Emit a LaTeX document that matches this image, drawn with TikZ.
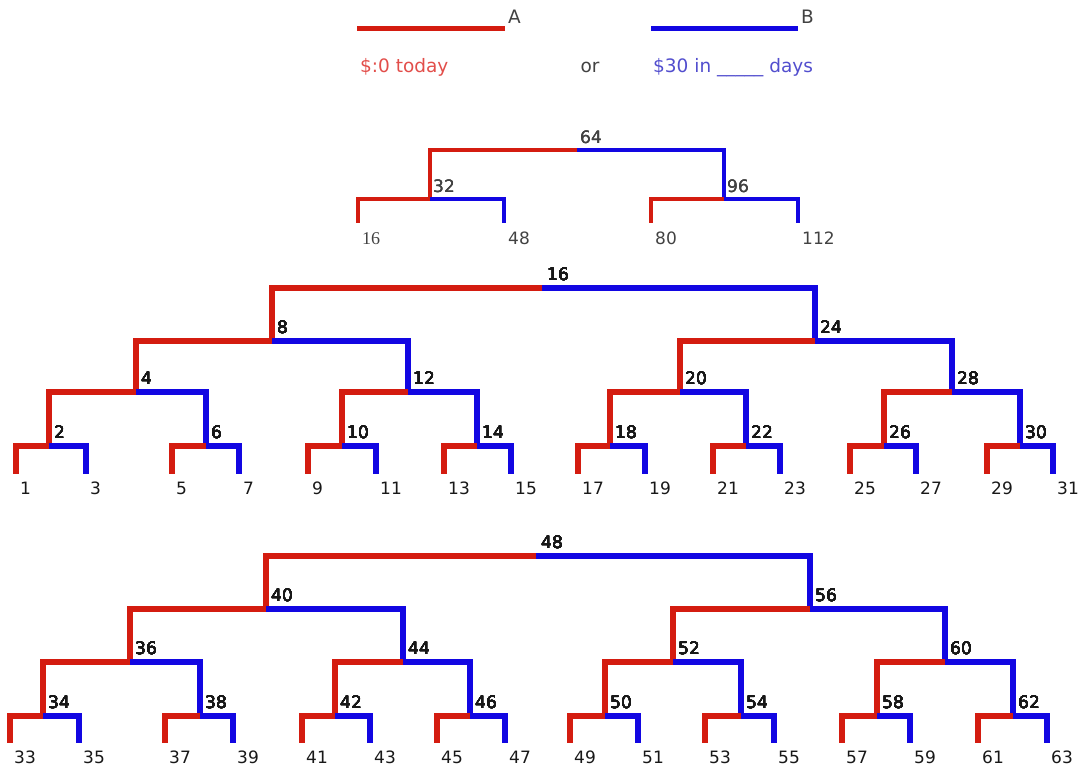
\documentclass[tikz,border=0pt]{standalone}
\usepackage{fontspec}
\setmainfont{DejaVu Sans}
\newfontfamily\oddserif{Liberation Serif}
\definecolor{optRed}{RGB}{212,28,16}
\definecolor{optBlue}{RGB}{18,6,226}
\definecolor{numDark}{RGB}{24,24,24}
\definecolor{numGray}{RGB}{66,66,66}
\definecolor{txtRed}{RGB}{226,78,74}
\definecolor{txtBlue}{RGB}{82,78,206}
\tikzset{
  redarm/.style={draw=optRed, line width=5.5pt},
  bluearm/.style={draw=optBlue, line width=5.5pt},
  numlbl/.style={font=\fontsize{17}{17}\selectfont, text=numDark, inner sep=0pt},
  splitlbl/.style={numlbl, anchor=base west, xshift=5pt, yshift=8pt},
  leaflbl/.style={numlbl, anchor=base west, xshift=4pt, yshift=-20pt},
  keytext/.style={font=\fontsize{18.5}{18.5}\selectfont, inner sep=0pt},
}
% red arm to the left child, blue arm to the right child
\newcommand{\splitat}[4][]{%
  \draw[redarm,#1] (#2) -| (#3);
  \draw[bluearm,#1] (#2) -| (#4);
}
\begin{document}
\begin{tikzpicture}[x=1pt,y=-1pt]
        \useasboundingbox (0,0) rectangle (1081,768);
        %% Key
        \coordinate (aStart) at (357,29);
        \coordinate (aEnd) at (505,29);
        \coordinate (bStart) at (651,29);
        \coordinate (bEnd) at (798,29);
        \draw[redarm, line width=5pt] (aStart) -- (aEnd);
        \draw[bluearm, line width=5pt] (bStart) -- (bEnd);
        \node[keytext, text=numGray, anchor=base west] (keyA) at ([shift={(3,-5)}]aEnd) {A};
        \node[keytext, text=numGray, anchor=base west] (keyB) at ([shift={(3,-5)}]bEnd) {B};
        \node[keytext, text=txtRed, anchor=base west] (keyAtext) at (360,73) {\$:0 today};
        \node[keytext, text=numGray, anchor=base] (keyOr) at (590,73) {or};
        \node[keytext, text=txtBlue, anchor=base west] (keyBtext) at (653,73) {\$30 in \_\_\_\_\_ days};
        %% Top tree
        \coordinate (t64) at (577,150);
        \coordinate (t32) at (430,199);
        \coordinate (t96) at (724,199);
        \foreach \n/\x in {16/358,48/504,80/651,112/798}
            \coordinate (t\n) at (\x,223);
        \foreach \p/\l/\r in {64/32/96,32/16/48,96/80/112}
            \splitat[line width=4pt]{t\p}{t\l}{t\r}
        \foreach \n in {64,32,96}
            \node[splitlbl, text=numGray, yshift=-1pt, xshift=-2pt] (lbl-t\n) at (t\n) {\n};
        \node[leaflbl, text=numGray, yshift=-1pt] (lbl-t16) at (t16) {\oddserif\fontsize{18}{18}\selectfont 16};
        \foreach \n in {48,80,112}
            \node[leaflbl, text=numGray, yshift=-1pt] (lbl-t\n) at (t\n) {\n};
        %% Middle tree
        \coordinate (m16) at (542,288);
        \coordinate (m8) at (272,341);
        \coordinate (m24) at (815,341);
        \foreach \n/\x in {4/136,12/408,20/680,28/952}
            \coordinate (m\n) at (\x,392);
        \foreach \n/\x in {2/49,6/206,10/342,14/477,18/610,22/746,26/884,30/1020}
            \coordinate (m\n) at (\x,446);
        \foreach \n/\x in {1/16,3/86,5/172,7/239,9/308,11/376,13/444,15/511,17/578,19/645,21/713,23/780,25/850,27/916,29/987,31/1053}
            \coordinate (m\n) at (\x,474);
        \foreach \p/\l/\r in {16/8/24,8/4/12,24/20/28,4/2/6,12/10/14,20/18/22,28/26/30,
                2/1/3,6/5/7,10/9/11,14/13/15,18/17/19,22/21/23,26/25/27,30/29/31}
            \splitat{m\p}{m\l}{m\r}
        \foreach \n in {16,8,24,4,12,20,28,2,6,10,14,18,22,26,30}
            \node[splitlbl] (lbl-m\n) at (m\n) {\n};
        \foreach \n in {1,3,...,31}
            \node[leaflbl] (lbl-m\n) at (m\n) {\n};
        %% Bottom tree
        \coordinate (b48) at (536,556);
        \coordinate (b40) at (266,609);
        \coordinate (b56) at (810,609);
        \foreach \n/\x in {36/130,44/403,52/673,60/945}
            \coordinate (b\n) at (\x,662);
        \foreach \n/\x in {34/43,38/200,42/335,46/470,50/605,54/741,58/877,62/1013}
            \coordinate (b\n) at (\x,716);
        \foreach \n/\x in {33/10,35/79,37/165,39/233,41/302,43/370,45/437,47/505,49/570,51/638,53/705,55/774,57/842,59/910,61/978,63/1047}
            \coordinate (b\n) at (\x,743);
        \foreach \p/\l/\r in {48/40/56,40/36/44,56/52/60,36/34/38,44/42/46,52/50/54,60/58/62,
                34/33/35,38/37/39,42/41/43,46/45/47,50/49/51,54/53/55,58/57/59,62/61/63}
            \splitat{b\p}{b\l}{b\r}
        \foreach \n in {48,40,56,36,44,52,60,34,38,42,46,50,54,58,62}
            \node[splitlbl] (lbl-b\n) at (b\n) {\n};
        \foreach \n in {33,35,...,63}
            \node[leaflbl] (lbl-b\n) at (b\n) {\n};
\end{tikzpicture}
\end{document}
